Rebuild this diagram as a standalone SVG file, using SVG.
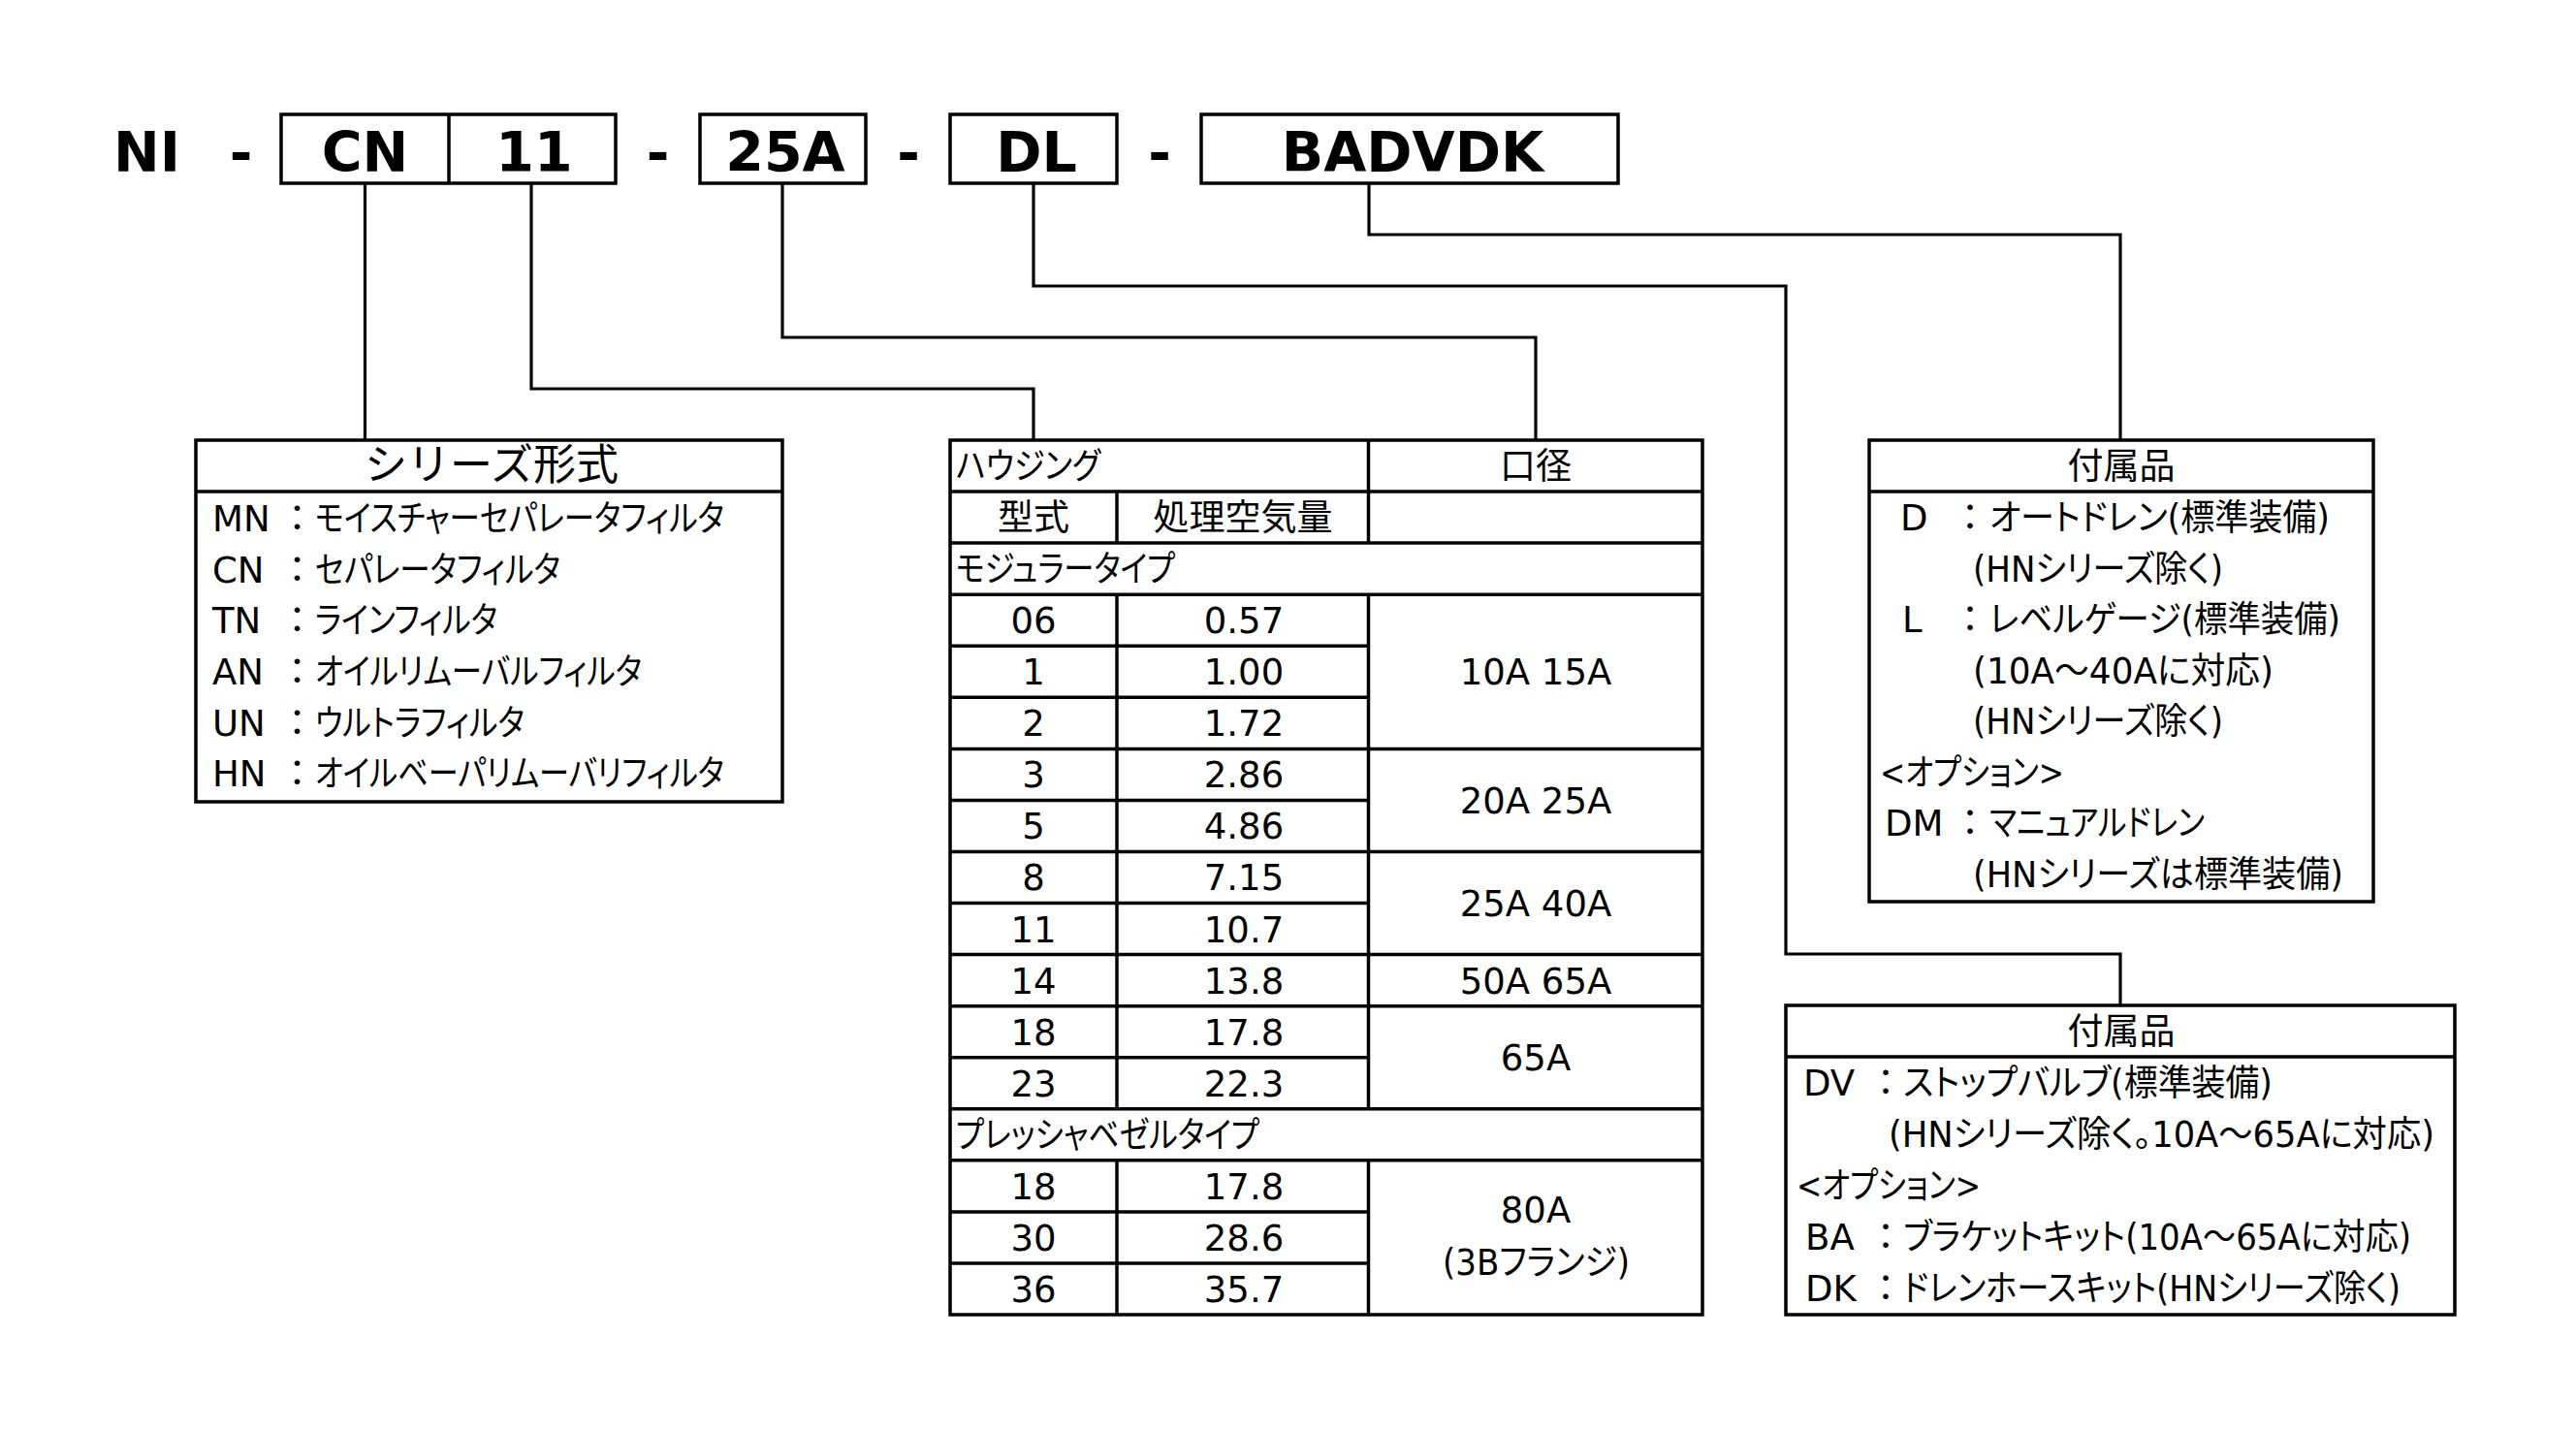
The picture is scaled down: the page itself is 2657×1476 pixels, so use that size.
<svg xmlns="http://www.w3.org/2000/svg" width="2657" height="1476" viewBox="0 0 2657 1476">
<style>
.t{font-family:"DejaVu Sans","Noto Sans CJK JP",sans-serif;font-size:37px;fill:#000}
.p{font-feature-settings:"palt"}
.c{font-family:"Noto Sans CJK JP",sans-serif;font-size:37px;fill:#000}
.b{font-weight:bold;font-size:57px}
.m{text-anchor:middle}
.ttl{font-size:44px}
.box{fill:#fff;stroke:#000;stroke-width:3.5}
.ln{fill:none;stroke:#000;stroke-width:3.5}
.conn{fill:none;stroke:#000;stroke-width:3.2}
</style>
<rect x="0" y="0" width="2657" height="1476" fill="#fff"/>

<g id="connectors">
  <path class="conn" d="M376.5 189 V454"/>
  <path class="conn" d="M548 189 V401 H1066 V454"/>
  <path class="conn" d="M807 189 V348 H1584 V454"/>
  <path class="conn" d="M1066 189 V295 H1842 V984 H2187 V1037"/>
  <path class="conn" d="M1412 189 V242 H2187 V454"/>
</g>

<g id="code">
  <text class="t b" x="117" y="177">NI</text>
  <text class="t b m" x="248.5" y="177">-</text>
  <g id="code-cn11">
    <rect class="box" x="290" y="118" width="345" height="71"/>
    <line class="ln" x1="463" y1="118" x2="463" y2="189"/>
    <text class="t b m" x="376.5" y="177">CN</text>
    <text class="t b m" x="551" y="177">11</text>
  </g>
  <text class="t b m" x="678.5" y="177">-</text>
  <g id="code-25a">
    <rect class="box" x="722" y="118" width="171" height="71"/>
    <text class="t b m" x="810" y="177">25A</text>
  </g>
  <text class="t b m" x="937" y="177">-</text>
  <g id="code-dl">
    <rect class="box" x="980" y="118" width="172" height="71"/>
    <text class="t b m" x="1069" y="177">DL</text>
  </g>
  <text class="t b m" x="1196" y="177">-</text>
  <g id="code-badvdk">
    <rect class="box" x="1239" y="118" width="430" height="71"/>
    <text class="t b m" x="1457" y="177">BADVDK</text>
  </g>
</g>

<g id="series">
  <rect class="box" x="202" y="454" width="605" height="373"/>
  <line class="ln" x1="202" y1="507" x2="807" y2="507"/>
  <text class="t ttl m" x="507" y="495">シリーズ形式</text>
  <text class="t" x="219" y="548">MN</text><text class="c" x="288" y="548">：</text><text class="t p" x="325" y="548" textLength="422" lengthAdjust="spacingAndGlyphs">モイスチャーセパレータフィルタ</text>
  <text class="t" x="219" y="601">CN</text><text class="c" x="288" y="601">：</text><text class="t p" x="325" y="601" textLength="253" lengthAdjust="spacingAndGlyphs">セパレータフィルタ</text>
  <text class="t" x="219" y="653">TN</text><text class="c" x="288" y="653">：</text><text class="t p" x="325" y="653" textLength="188" lengthAdjust="spacingAndGlyphs">ラインフィルタ</text>
  <text class="t" x="219" y="706">AN</text><text class="c" x="288" y="706">：</text><text class="t p" x="325" y="706" textLength="337" lengthAdjust="spacingAndGlyphs">オイルリムーバルフィルタ</text>
  <text class="t" x="219" y="759">UN</text><text class="c" x="288" y="759">：</text><text class="t p" x="325" y="759" textLength="216" lengthAdjust="spacingAndGlyphs">ウルトラフィルタ</text>
  <text class="t" x="219" y="811">HN</text><text class="c" x="288" y="811">：</text><text class="t p" x="325" y="811" textLength="422" lengthAdjust="spacingAndGlyphs">オイルベーパリムーバリフィルタ</text>
</g>

<g id="housing-table">
  <rect class="box" x="980" y="454" width="776" height="902"/>
  <g class="grid">
    <line class="ln" x1="980" y1="507.1" x2="1756" y2="507.1"/>
    <line class="ln" x1="980" y1="560.1" x2="1756" y2="560.1"/>
    <line class="ln" x1="980" y1="613.2" x2="1756" y2="613.2"/>
    <line class="ln" x1="980" y1="666.2" x2="1411.5" y2="666.2"/>
    <line class="ln" x1="980" y1="719.3" x2="1411.5" y2="719.3"/>
    <line class="ln" x1="980" y1="772.4" x2="1756" y2="772.4"/>
    <line class="ln" x1="980" y1="825.4" x2="1411.5" y2="825.4"/>
    <line class="ln" x1="980" y1="878.5" x2="1756" y2="878.5"/>
    <line class="ln" x1="980" y1="931.5" x2="1411.5" y2="931.5"/>
    <line class="ln" x1="980" y1="984.6" x2="1756" y2="984.6"/>
    <line class="ln" x1="980" y1="1037.7" x2="1756" y2="1037.7"/>
    <line class="ln" x1="980" y1="1090.7" x2="1411.5" y2="1090.7"/>
    <line class="ln" x1="980" y1="1143.8" x2="1756" y2="1143.8"/>
    <line class="ln" x1="980" y1="1196.8" x2="1756" y2="1196.8"/>
    <line class="ln" x1="980" y1="1249.9" x2="1411.5" y2="1249.9"/>
    <line class="ln" x1="980" y1="1302.9" x2="1411.5" y2="1302.9"/>
    <line class="ln" x1="1411.5" y1="454" x2="1411.5" y2="560.1"/>
    <line class="ln" x1="1411.5" y1="613.2" x2="1411.5" y2="1143.8"/>
    <line class="ln" x1="1411.5" y1="1196.8" x2="1411.5" y2="1356"/>
    <line class="ln" x1="1152" y1="507.1" x2="1152" y2="560.1"/>
    <line class="ln" x1="1152" y1="613.2" x2="1152" y2="1143.8"/>
    <line class="ln" x1="1152" y1="1196.8" x2="1152" y2="1356"/>
  </g>
  <text class="t p" x="986" y="494" textLength="149" lengthAdjust="spacingAndGlyphs">ハウジング</text>
  <text class="t m" x="1584" y="494">口径</text>
  <text class="t m" x="1066" y="547">型式</text>
  <text class="t m" x="1282" y="547">処理空気量</text>
  <text class="t p" x="986" y="600" textLength="226" lengthAdjust="spacingAndGlyphs">モジュラータイプ</text>
  <text class="t m" x="1066" y="653">06</text><text class="t m" x="1283" y="653">0.57</text>
  <text class="t m" x="1066" y="706">1</text><text class="t m" x="1283" y="706">1.00</text>
  <text class="t m" x="1066" y="759">2</text><text class="t m" x="1283" y="759">1.72</text>
  <text class="t m" x="1066" y="812">3</text><text class="t m" x="1283" y="812">2.86</text>
  <text class="t m" x="1066" y="865">5</text><text class="t m" x="1283" y="865">4.86</text>
  <text class="t m" x="1066" y="918">8</text><text class="t m" x="1283" y="918">7.15</text>
  <text class="t m" x="1066" y="971.5">11</text><text class="t m" x="1283" y="971.5">10.7</text>
  <text class="t m" x="1066" y="1024.5">14</text><text class="t m" x="1283" y="1024.5">13.8</text>
  <text class="t m" x="1066" y="1077.5">18</text><text class="t m" x="1283" y="1077.5">17.8</text>
  <text class="t m" x="1066" y="1130.5">23</text><text class="t m" x="1283" y="1130.5">22.3</text>
  <text class="t m" x="1584" y="706">10A 15A</text>
  <text class="t m" x="1584" y="839">20A 25A</text>
  <text class="t m" x="1584" y="945">25A 40A</text>
  <text class="t m" x="1584" y="1024.5">50A 65A</text>
  <text class="t m" x="1584" y="1104">65A</text>
  <text class="t p" x="986" y="1184" textLength="313" lengthAdjust="spacingAndGlyphs">プレッシャベゼルタイプ</text>
  <text class="t m" x="1066" y="1237">18</text><text class="t m" x="1283" y="1237">17.8</text>
  <text class="t m" x="1066" y="1290">30</text><text class="t m" x="1283" y="1290">28.6</text>
  <text class="t m" x="1066" y="1343">36</text><text class="t m" x="1283" y="1343">35.7</text>
  <text class="t m" x="1584" y="1261">80A</text>
  <text class="t p" x="1488" y="1315" textLength="193" lengthAdjust="spacingAndGlyphs">(3Bフランジ)</text>
</g>

<g id="accessories-1">
  <rect class="box" x="1928" y="454" width="520" height="476"/>
  <line class="ln" x1="1928" y1="507" x2="2448" y2="507"/>
  <text class="t m" x="2188" y="494">付属品</text>
  <text class="t" x="1960" y="547">D</text><text class="c" x="2013.5" y="547">：</text><text class="t p" x="2052" y="547" textLength="351" lengthAdjust="spacingAndGlyphs">オートドレン(標準装備)</text>
  <text class="t p" x="2035" y="599.5" textLength="258" lengthAdjust="spacingAndGlyphs">(HNシリーズ除く)</text>
  <text class="t" x="1962" y="652">L</text><text class="c" x="2013.5" y="652">：</text><text class="t p" x="2052" y="652" textLength="362" lengthAdjust="spacingAndGlyphs">レベルゲージ(標準装備)</text>
  <text class="t p" x="2035" y="704.5" textLength="310" lengthAdjust="spacingAndGlyphs">(10A～40Aに対応)</text>
  <text class="t p" x="2035" y="757" textLength="258" lengthAdjust="spacingAndGlyphs">(HNシリーズ除く)</text>
  <text class="t p" x="1939" y="809.5" textLength="190" lengthAdjust="spacingAndGlyphs">&lt;オプション&gt;</text>
  <text class="t" x="1944" y="862">DM</text><text class="c" x="2013.5" y="862">：</text><text class="t p" x="2052" y="862" textLength="222" lengthAdjust="spacingAndGlyphs">マニュアルドレン</text>
  <text class="t p" x="2035" y="914.5" textLength="382" lengthAdjust="spacingAndGlyphs">(HNシリーズは標準装備)</text>
</g>

<g id="accessories-2">
  <rect class="box" x="1842" y="1037" width="690" height="319"/>
  <line class="ln" x1="1842" y1="1090" x2="2532" y2="1090"/>
  <text class="t m" x="2188" y="1077">付属品</text>
  <text class="t" x="1860" y="1130">DV</text><text class="c" x="1926.5" y="1130">：</text><text class="t p" x="1963" y="1130" textLength="381" lengthAdjust="spacingAndGlyphs">ストップバルブ(標準装備)</text>
  <text class="t p" x="1948" y="1183" textLength="563" lengthAdjust="spacingAndGlyphs">(HNシリーズ除く。10A～65Aに対応)</text>
  <text class="t p" x="1853" y="1236" textLength="190" lengthAdjust="spacingAndGlyphs">&lt;オプション&gt;</text>
  <text class="t" x="1862" y="1289">BA</text><text class="c" x="1926.5" y="1289">：</text><text class="t p" x="1963" y="1289" textLength="524" lengthAdjust="spacingAndGlyphs">ブラケットキット(10A～65Aに対応)</text>
  <text class="t" x="1862" y="1342">DK</text><text class="c" x="1926.5" y="1342">：</text><text class="t p" x="1963" y="1342" textLength="513" lengthAdjust="spacingAndGlyphs">ドレンホースキット(HNシリーズ除く)</text>
</g>
</svg>
